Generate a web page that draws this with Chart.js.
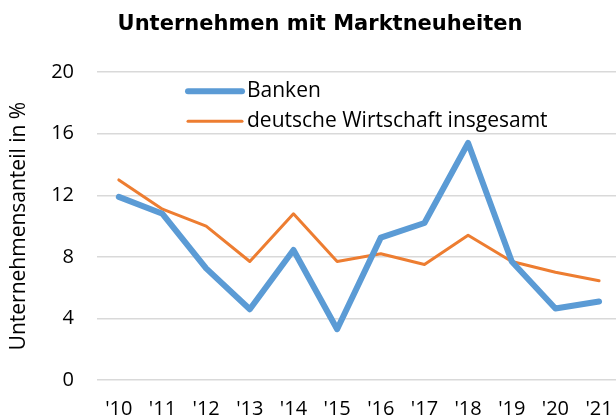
<!DOCTYPE html>
<html>
<head>
<meta charset="utf-8">
<script src="https://cdn.jsdelivr.net/npm/chart.js@4"></script>
<style>
  html, body { margin: 0; padding: 0; background: #fff; overflow: hidden; }
  #wrap { width: 630px; height: 420px; }
</style>
</head>
<body>
<div id="wrap"><canvas id="marktChart" width="630" height="420"></canvas></div>
<script>
const years = ["'10", "'11", "'12", "'13", "'14", "'15", "'16", "'17", "'18", "'19", "'20", "'21"];
const banken = [11.9, 10.8, 7.25, 4.6, 8.45, 3.3, 9.25, 10.2, 15.4, 7.7, 4.65, 5.1];
const wirtschaft = [13.0, 11.1, 10.0, 7.7, 10.8, 7.7, 8.2, 7.5, 9.4, 7.7, 7.0, 6.45];
const yTicks = [0, 4, 8, 12, 16, 20];

const BLUE = '#5B9BD5';
const ORANGE = '#ED7D31';
const FONT = "'Open Sans', sans-serif";

// legend drawn inside the plot area, like the original
const innerLegend = {
    id: 'innerLegend',
    afterDraw(chart) {
        const ctx = chart.ctx;
        const area = chart.chartArea;
        const x0 = area.left + 91;
        const rows = [area.top + 19, area.top + 49];
        ctx.save();
        ctx.font = '21px ' + FONT;
        ctx.textBaseline = 'middle';
        ctx.fillStyle = '#000';
        ctx.lineCap = 'round';
        chart.data.datasets.forEach((ds, i) => {
            const y = rows[i];
            ctx.strokeStyle = ds.borderColor;
            ctx.lineWidth = ds.borderWidth;
            ctx.beginPath();
            ctx.moveTo(x0, y);
            ctx.lineTo(x0 + 54, y);
            ctx.stroke();
            ctx.fillText(ds.label, x0 + 59, y);
        });
        ctx.restore();
    }
};

function generateMarktChart() {
    const ctx = document.getElementById('marktChart').getContext('2d');
    new Chart(ctx, {
        type: 'line',
        data: {
            labels: years,
            datasets: [{
                label: 'Banken',
                data: banken,
                borderColor: BLUE,
                borderWidth: 6,
                borderJoinStyle: 'round',
                borderCapStyle: 'round',
                pointRadius: 0,
                tension: 0
            }, {
                label: 'deutsche Wirtschaft insgesamt',
                data: wirtschaft,
                borderColor: ORANGE,
                borderWidth: 3,
                borderJoinStyle: 'round',
                borderCapStyle: 'round',
                pointRadius: 0,
                tension: 0
            }]
        },
        options: {
            responsive: false,
            animation: false,
            // left padding moves the title centre to where the original has it
            layout: { padding: { left: 17, right: 7, top: 0, bottom: 0 } },
            plugins: {
                legend: { display: false },
                tooltip: { enabled: false },
                title: {
                    display: true,
                    text: 'Unternehmen mit Marktneuheiten',
                    color: '#000',
                    font: { family: "'DejaVu Sans', sans-serif", size: 21, weight: 'bold' },
                    padding: { top: 12, bottom: 35 }
                }
            },
            scales: {
                x: {
                    offset: true,
                    afterFit(scale) { scale.height = 40; },
                    grid: { display: false, drawTicks: false },
                    border: { display: false },
                    ticks: {
                        color: '#000',
                        font: { family: FONT, size: 20 },
                        padding: 17,
                        maxRotation: 0,
                        autoSkip: false
                    }
                },
                y: {
                    min: 0,
                    max: 20,
                    afterFit(scale) { scale.width = 80; },
                    afterBuildTicks(scale) { scale.ticks = yTicks.map(v => ({ value: v })); },
                    grid: { color: '#D9D9D9', lineWidth: 1.5, drawTicks: false },
                    border: { display: false },
                    ticks: {
                        color: '#000',
                        font: { family: FONT, size: 20 },
                        padding: 23
                    },
                    title: {
                        display: true,
                        text: 'Unternehmensanteil in %',
                        color: '#000',
                        font: { family: FONT, size: 21 },
                        padding: { top: -11, bottom: 0 }
                    }
                }
            }
        },
        plugins: [innerLegend]
    });
}

document.addEventListener('DOMContentLoaded', () => {
    generateMarktChart();
});
</script>
</body>
</html>
